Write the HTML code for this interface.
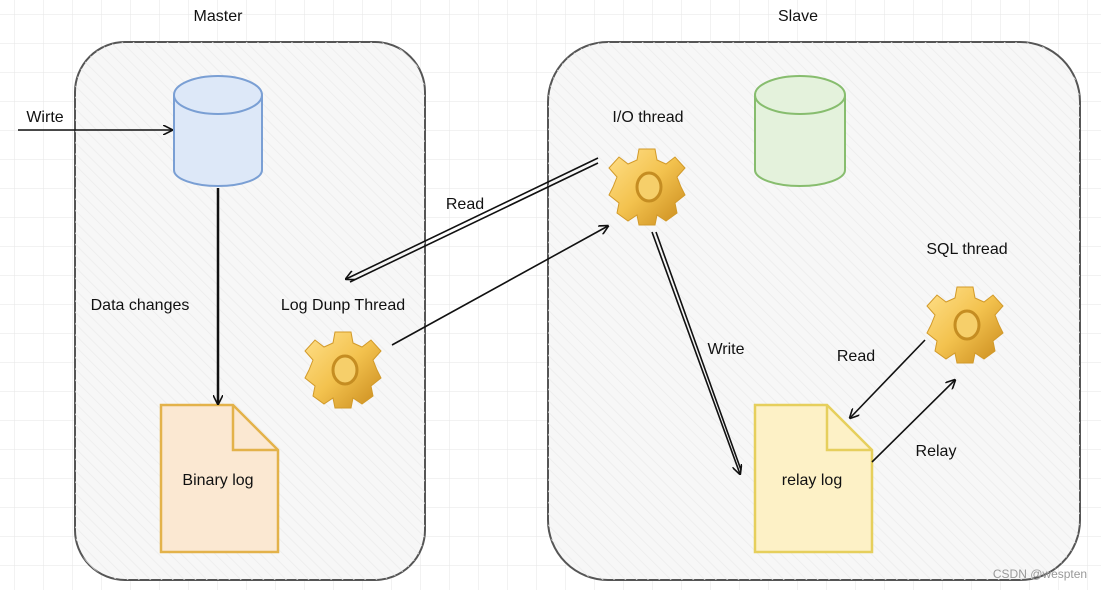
<!DOCTYPE html>
<html><head><meta charset="utf-8"><style>
html,body{margin:0;padding:0;background:#fff;}
svg{display:block;font-family:"Liberation Sans",sans-serif;}
</style></head><body>
<svg width="1101" height="590" viewBox="0 0 1101 590" xmlns="http://www.w3.org/2000/svg">
<defs>
<pattern id="g" width="29" height="29" patternUnits="userSpaceOnUse" x="15" y="15">
<path d="M29 0V29M0 29H29" stroke="#e6e6e6" stroke-width="1" fill="none"/>
</pattern>
<pattern id="h" width="8" height="8" patternUnits="userSpaceOnUse" patternTransform="rotate(-45)">
<line x1="0" y1="0" x2="0" y2="8" stroke="#ececec" stroke-width="1.5"/>
</pattern>
<linearGradient id="gold" x1="0" y1="0" x2="1" y2="1">
<stop offset="0" stop-color="#ffe08a"/><stop offset="0.5" stop-color="#f3c24e"/><stop offset="1" stop-color="#c98a1c"/>
</linearGradient>
<g id="gear">
<path fill="url(#gold)" stroke="#d29a2a" stroke-width="1" d="M-8,-38 L8,-38 L10,-27 L19,-23 L28,-30 L38,-19 L30,-10 L34,0 L38,8 L28,16 L30,26 L19,34 L10,28 L8,38 L-8,38 L-10,28 L-19,34 L-30,26 L-28,16 L-38,8 L-34,0 L-30,-10 L-38,-19 L-28,-30 L-19,-23 L-10,-27 Z"/>
<ellipse cx="2" cy="0" rx="12" ry="14" fill="#f6cf6a" stroke="#c58d22" stroke-width="3"/>
</g>
<marker id="a" markerWidth="10" markerHeight="10" refX="9" refY="5" orient="auto" markerUnits="userSpaceOnUse"><path d="M0,0 L10,5 L0,10" fill="none" stroke="#111" stroke-width="1.6"/></marker>
</defs>
<rect width="1101" height="590" fill="#fff"/>
<rect width="1101" height="590" fill="url(#g)"/>
<rect x="75" y="42" width="350" height="538" rx="50" fill="#f7f7f7" stroke="#555" stroke-width="2"/>
<rect x="75" y="42" width="350" height="538" rx="50" fill="url(#h)"/>
<rect x="548" y="42" width="532" height="538" rx="60" fill="#f7f7f7" stroke="#555" stroke-width="2"/>
<rect x="548" y="42" width="532" height="538" rx="60" fill="url(#h)"/>
<!-- cylinders -->
<g stroke="#7a9fd4" stroke-width="2" fill="#dde8f8">
<path d="M174,95 V170 A44,16 0 0 0 262,170 V95"/>
<ellipse cx="218" cy="95" rx="44" ry="19"/>
</g>
<g stroke="#87bd6e" stroke-width="2" fill="#e4f2dc">
<path d="M755,95 V170 A45,16 0 0 0 845,170 V95"/>
<ellipse cx="800" cy="95" rx="45" ry="19"/>
</g>
<!-- docs -->
<path d="M161,405 H233 L278,450 V552 H161 Z" fill="#fbe8d2" stroke="#e3b24a" stroke-width="2.5"/>
<path d="M233,405 V450 H278" fill="none" stroke="#e3b24a" stroke-width="2.5"/>
<path d="M755,405 H827 L872,450 V552 H755 Z" fill="#fdf1c6" stroke="#e6cf5c" stroke-width="2.5"/>
<path d="M827,405 V450 H872" fill="none" stroke="#e6cf5c" stroke-width="2.5"/>
<!-- gears -->
<use href="#gear" transform="translate(343,370)"/>
<use href="#gear" transform="translate(647,187)"/>
<use href="#gear" transform="translate(965,325)"/>
<!-- arrows -->
<g stroke="#111" stroke-width="1.6" fill="none">
<path d="M18,130 H172" marker-end="url(#a)"/>
<path d="M218,188 V404" stroke-width="2.5" marker-end="url(#a)"/>
<path d="M598,158 L346,279" marker-end="url(#a)"/>
<path d="M598,163 L350,282"/>
<path d="M392,345 L608,226" marker-end="url(#a)"/>
<path d="M652,232 L740,474" marker-end="url(#a)"/>
<path d="M656,232 L741,470"/>
<path d="M925,340 L850,418" marker-end="url(#a)"/>
<path d="M872,462 L955,380" marker-end="url(#a)"/>
</g>
<g font-size="16" fill="#111" text-anchor="middle">
<text x="218" y="21">Master</text>
<text x="798" y="21">Slave</text>
<text x="45" y="122">Wirte</text>
<text x="140" y="310">Data changes</text>
<text x="343" y="310">Log Dunp Thread</text>
<text x="465" y="209">Read</text>
<text x="648" y="122">I/O thread</text>
<text x="967" y="254">SQL thread</text>
<text x="726" y="354">Write</text>
<text x="856" y="361">Read</text>
<text x="936" y="456">Relay</text>
<text x="218" y="485">Binary log</text>
<text x="812" y="485">relay log</text>
</g>
<text x="1040" y="578" font-size="12" fill="#999" text-anchor="middle">CSDN @wespten</text>
</svg>
</body></html>
